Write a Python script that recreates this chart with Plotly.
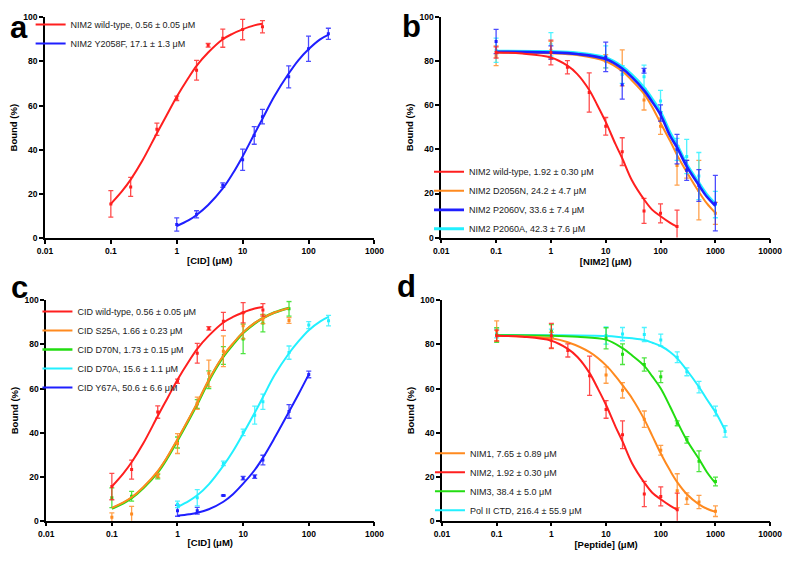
import plotly.graph_objects as go

# ---------------- data ----------------
# Panel a : CID titration
a_wt_x = [0.1, 0.2, 0.5, 1, 2, 3, 5, 10, 20]
a_wt_y = [15.5, 23.2, 49.3, 63.3, 76.0, 87.3, 90.5, 94.4, 95.7]
a_wt_e = [6.0, 4.3, 2.8, 1.0, 4.5, 0.8, 4.1, 4.6, 2.8]
a_wt_cx = [0.1, 0.15, 0.2, 0.3, 0.5, 0.7, 1, 1.5, 2, 3, 5, 7, 10, 15, 20]
a_wt_cy = [15.5, 21.5, 26.5, 35.0, 47.5, 55.5, 64.0, 72.5, 78.0, 84.0, 90.0, 92.5, 94.5, 96.3, 97.0]

a_mut_x = [1, 2, 5, 10, 15, 20, 50, 100, 200]
a_mut_y = [6.2, 10.8, 24.0, 35.5, 46.5, 55.0, 73.0, 85.7, 92.5]
a_mut_e = [3.0, 1.6, 1.0, 4.8, 4.0, 3.3, 5.0, 5.7, 2.5]
a_mut_cx = [1, 1.5, 2, 3, 5, 7, 10, 15, 20, 30, 50, 70, 100, 150, 200]
a_mut_cy = [5.5, 8.0, 10.5, 15.0, 22.5, 29.0, 37.0, 47.0, 54.0, 64.0, 74.5, 80.5, 85.5, 90.0, 92.0]

# Panel b : NIM2 competition
b_wt_x = [0.1, 1, 2, 5, 10, 20, 50, 100, 200]
b_wt_y = [84.0, 84.0, 77.3, 65.8, 50.5, 39.0, 12.1, 11.0, 5.0]
b_wt_e = [2.5, 5.6, 3.0, 8.9, 4.0, 6.3, 5.7, 4.3, 7.5]
b_wt_cx = [0.1, 0.3, 1, 2, 3, 5, 7, 10, 15, 20, 30, 50, 70, 100, 150, 200]
b_wt_cy = [84.0, 83.5, 81.7, 78.0, 74.3, 67.0, 60.2, 52.5, 42.5, 36.0, 26.0, 17.3, 12.7, 9.7, 6.7, 5.0]

b_mx = [0.1, 1, 10, 20, 50, 100, 200, 300, 500, 1000]
b_d2056n_y = [82.5, 85.0, 80.0, 77.0, 62.4, 50.5, 32.7, 31.0, 21.5, 11.0]
b_d2056n_e = [4.5, 4.0, 3.0, 8.2, 4.5, 3.7, 8.9, 4.0, 13.5, 5.0]
b_p2060v_y = [89.0, 84.0, 82.0, 69.3, 75.7, 56.5, 40.1, 30.5, 23.6, 15.6]
b_p2060v_e = [5.5, 3.0, 6.7, 6.5, 1.1, 3.7, 6.7, 4.5, 7.2, 12.6]
b_p2060a_y = [85.0, 87.7, 82.0, 74.0, 73.0, 62.0, 40.0, 36.8, 27.9, 15.0]
b_p2060a_e = [5.5, 5.3, 5.0, 4.0, 5.3, 4.8, 5.0, 7.8, 10.7, 6.0]
b_mcx = [0.1, 1, 3, 10, 20, 30, 50, 70, 100, 150, 200, 300, 500, 700, 1000]
b_d2056n_cy = [84.0, 83.6, 82.8, 80.0, 75.5, 71.3, 65.2, 59.4, 52.0, 43.8, 37.5, 29.8, 20.8, 15.5, 11.2]
b_p2060v_cy = [84.3, 84.0, 83.3, 81.0, 76.7, 72.8, 66.8, 61.7, 55.7, 46.1, 40.9, 32.3, 23.8, 18.5, 14.4]
b_p2060a_cy = [84.6, 84.4, 83.8, 81.6, 77.5, 73.8, 68.0, 63.0, 57.0, 47.5, 42.0, 33.3, 24.8, 19.5, 15.3]

# Panel c : CID mutants
c_sx = [0.1, 0.2, 0.5, 1, 2, 3, 5, 10, 20, 50]
c_s25a_y = [1.5, 3.0, 20.5, 35.0, 53.3, 66.9, 76.9, 88.5, 91.5, 90.9]
c_s25a_e = [2.0, 3.5, 1.0, 4.5, 2.8, 6.0, 7.0, 6.0, 2.0, 1.3]
c_d70n_y = [10.4, 11.1, 20.0, 35.5, 53.0, 64.0, 75.0, 82.5, 89.7, 96.2]
c_d70n_e = [4.5, 2.2, 1.0, 2.5, 2.0, 4.0, 4.0, 6.7, 4.0, 3.3]
c_scx = [0.1, 0.15, 0.2, 0.3, 0.5, 0.7, 1, 1.5, 2, 3, 5, 7, 10, 15, 20, 30, 50]
c_s25a_cy = [5.8, 8.3, 10.6, 15.2, 22.5, 29.0, 37.0, 46.5, 53.5, 64.0, 75.0, 80.5, 85.5, 89.8, 92.0, 94.5, 96.5]
c_d70n_cy = [5.5, 8.0, 10.3, 14.8, 22.0, 28.5, 36.5, 46.0, 53.0, 63.5, 74.5, 80.0, 85.3, 89.6, 92.0, 94.5, 96.6]

c_d70a_x = [1, 2, 5, 10, 15, 20, 50, 100, 200]
c_d70a_y = [7.4, 10.4, 26.0, 40.1, 47.9, 54.0, 76.3, 88.8, 90.8]
c_d70a_e = [1.5, 3.7, 1.0, 1.5, 4.1, 3.5, 3.0, 1.6, 2.4]
c_d70a_cx = [1, 1.5, 2, 3, 5, 7, 10, 15, 20, 30, 50, 70, 100, 150, 200]
c_d70a_cy = [6.2, 9.0, 11.5, 16.5, 25.0, 31.5, 39.5, 49.0, 56.0, 66.0, 76.0, 81.5, 86.5, 90.5, 92.5]

c_y67a_x = [1, 2, 5, 10, 15, 20, 50, 100]
c_y67a_y = [4.5, 4.5, 11.4, 19.3, 20.0, 27.5, 49.6, 66.4]
c_y67a_e = [2.5, 1.5, 0.3, 0.8, 0.8, 2.2, 3.1, 1.5]
c_y67a_cx = [1, 1.5, 2, 3, 5, 7, 10, 15, 20, 30, 50, 70, 100]
c_y67a_cy = [2.2, 2.9, 3.6, 5.2, 8.6, 12.0, 16.8, 23.0, 28.5, 37.5, 49.5, 57.5, 66.4]

# Panel d : peptide competition
d_px = [0.1, 1, 10, 20, 50, 100, 200, 300, 500, 1000]
d_nim1_y = [86.2, 81.8, 66.1, 59.2, 46.1, 32.0, 13.6, 10.0, 8.5, 4.3]
d_nim1_e = [4.5, 3.7, 3.7, 3.5, 3.7, 2.2, 7.7, 2.6, 3.0, 2.4]
d_nim1_cx = [0.1, 1, 2, 5, 10, 15, 20, 30, 50, 70, 100, 150, 200, 300, 500, 700, 1000]
d_nim1_cy = [84.0, 82.8, 81.0, 76.5, 70.5, 65.5, 61.5, 55.5, 46.0, 38.5, 30.5, 22.5, 17.5, 12.0, 7.4, 5.4, 4.0]
d_nim3_y = [84.3, 86.0, 82.8, 75.6, 70.9, 65.3, 44.2, 36.7, 27.0, 17.8]
d_nim3_e = [3.3, 3.0, 4.8, 4.7, 3.0, 2.6, 1.1, 1.5, 4.7, 2.0]
d_nim3_cx = [0.1, 1, 3, 10, 20, 30, 50, 70, 100, 150, 200, 300, 500, 700, 1000]
d_nim3_cy = [84.2, 84.0, 83.5, 82.2, 78.3, 75.0, 70.3, 65.5, 60.0, 51.5, 45.0, 36.5, 28.0, 22.0, 17.0]
d_ctd_x = [0.1, 1, 10, 20, 50, 100, 200, 300, 500, 1000, 1500]
d_ctd_y = [85.0, 85.0, 84.1, 84.7, 84.5, 82.0, 74.2, 67.6, 60.6, 49.8, 40.5]
d_ctd_e = [2.0, 2.0, 3.9, 3.0, 3.2, 2.7, 2.4, 1.8, 2.6, 2.2, 2.6]
d_ctd_cx = [0.1, 1, 10, 20, 30, 50, 70, 100, 150, 200, 300, 500, 700, 1000, 1500]
d_ctd_cy = [84.3, 84.2, 83.8, 83.2, 82.8, 82.0, 80.8, 79.3, 76.5, 73.7, 68.3, 60.7, 55.0, 49.3, 41.0]

tickvals_5 = [0.01, 0.1, 1, 10, 100, 1000]
ticktext_5 = ["0.01", "0.1", "1", "10", "100", "1000"]
tickvals_6 = [0.01, 0.1, 1, 10, 100, 1000, 10000]
ticktext_6 = ["0.01", "0.1", "1", "10", "100", "1000", "10000"]
yticks = [0, 20, 40, 60, 80, 100]

# ---------------- styling ----------------
RED = "#ff1f1f"
BLUE = "#1f1fff"
ORANGE = "#ff8a1f"
GREEN = "#22dd11"
CYAN = "#22f0ff"
FONT = "Liberation Sans, Arial, Helvetica, sans-serif"

def err_color(c, a=0.8):
    c = c.lstrip("#")
    r, g, b = int(c[0:2], 16), int(c[2:4], 16), int(c[4:6], 16)
    return f"rgba({r},{g},{b},{a})"

fig = go.Figure()

def add_series(ax, x, y, e, cx, cy, color, name, legend, rank, width=2.0):
    xa = "x" if ax == 1 else f"x{ax}"
    ya = "y" if ax == 1 else f"y{ax}"
    fig.add_trace(go.Scatter(
        x=cx, y=cy, mode="lines", line=dict(color=color, width=width, shape="spline", smoothing=1.0),
        name=name, legend=legend, legendrank=rank, xaxis=xa, yaxis=ya, showlegend=True,
        hoverinfo="skip"))
    fig.add_trace(go.Scatter(
        x=x, y=y, mode="markers", marker=dict(color=color, size=3, symbol="square"),
        error_y=dict(type="data", array=e, visible=True, color=err_color(color), thickness=1.3, width=2.5),
        xaxis=xa, yaxis=ya, showlegend=False, legend=legend, cliponaxis=True, hoverinfo="skip"))

# Panel a
add_series(1, a_wt_x, a_wt_y, a_wt_e, a_wt_cx, a_wt_cy, RED, "NIM2 wild-type, 0.56 ± 0.05 μM", "legend", 1)
add_series(1, a_mut_x, a_mut_y, a_mut_e, a_mut_cx, a_mut_cy, BLUE, "NIM2 Y2058F, 17.1 ± 1.3 μM", "legend", 2)

# Panel b (draw order: cyan below blue)
add_series(2, b_mx, b_d2056n_y, b_d2056n_e, b_mcx, b_d2056n_cy, ORANGE, "NIM2 D2056N, 24.2 ± 4.7 μM", "legend2", 2)
add_series(2, b_mx, b_p2060a_y, b_p2060a_e, b_mcx, b_p2060a_cy, CYAN, "NIM2 P2060A, 42.3 ± 7.6 μM", "legend2", 4, width=3.0)
add_series(2, b_mx, b_p2060v_y, b_p2060v_e, b_mcx, b_p2060v_cy, BLUE, "NIM2 P2060V, 33.6 ± 7.4 μM", "legend2", 3, width=2.6)
add_series(2, b_wt_x, b_wt_y, b_wt_e, b_wt_cx, b_wt_cy, RED, "NIM2 wild-type, 1.92 ± 0.30 μM", "legend2", 1)

# Panel c
add_series(3, c_y67a_x, c_y67a_y, c_y67a_e, c_y67a_cx, c_y67a_cy, BLUE, "CID Y67A, 50.6 ± 6.6 μM", "legend3", 5)
add_series(3, c_d70a_x, c_d70a_y, c_d70a_e, c_d70a_cx, c_d70a_cy, CYAN, "CID D70A, 15.6 ± 1.1 μM", "legend3", 4)
add_series(3, c_sx, c_d70n_y, c_d70n_e, c_scx, c_d70n_cy, GREEN, "CID D70N, 1.73 ± 0.15 μM", "legend3", 3, width=2.6)
add_series(3, c_sx, c_s25a_y, c_s25a_e, c_scx, c_s25a_cy, ORANGE, "CID S25A, 1.66 ± 0.23 μM", "legend3", 2)
add_series(3, a_wt_x, a_wt_y, a_wt_e, a_wt_cx, a_wt_cy, RED, "CID wild-type, 0.56 ± 0.05 μM", "legend3", 1)

# Panel d
add_series(4, d_ctd_x, d_ctd_y, d_ctd_e, d_ctd_cx, d_ctd_cy, CYAN, "Pol II CTD, 216.4 ± 55.9 μM", "legend4", 4)
add_series(4, d_px, d_nim3_y, d_nim3_e, d_nim3_cx, d_nim3_cy, GREEN, "NIM3, 38.4 ± 5.0 μM", "legend4", 3)
add_series(4, d_px, d_nim1_y, d_nim1_e, d_nim1_cx, d_nim1_cy, ORANGE, "NIM1, 7.65 ± 0.89 μM", "legend4", 1)
add_series(4, b_wt_x, b_wt_y, b_wt_e, b_wt_cx, b_wt_cy, RED, "NIM2, 1.92 ± 0.30 μM", "legend4", 2)

# The page body has an 8px default margin, so the figure is made 8px smaller
# and all page positions are converted into figure coordinates.
OFF = 8
W, H = 800 - OFF, 562 - OFF
def px(v):
    return (v - OFF) / W
def py(v):
    return 1 - (v - OFF) / H

tickfont = dict(family=FONT, size=8.5, color="black", weight="bold")
titlefont = dict(family=FONT, size=9.5, color="black", weight="bold")

def xaxis(domain, lo, hi, vals, text, title, anchor):
    return dict(type="log", range=[lo, hi], domain=domain, anchor=anchor,
                tickmode="array", tickvals=vals, ticktext=text,
                showline=True, linecolor="black", linewidth=1.6, mirror=False,
                ticks="outside", ticklen=4, tickwidth=1.6, tickcolor="black",
                showgrid=False, zeroline=False, tickfont=tickfont,
                title=dict(text=title, font=titlefont, standoff=2))

def yaxis(domain, anchor):
    return dict(range=[0, 100], domain=domain, anchor=anchor,
                tickmode="array", tickvals=yticks,
                showline=True, linecolor="black", linewidth=1.6,
                ticks="outside", ticklen=4, tickwidth=1.6, tickcolor="black",
                showgrid=False, zeroline=False, tickfont=tickfont,
                title=dict(text="Bound (%)", font=titlefont, standoff=4))

legfont = dict(family=FONT, size=9, color="#222222")
def legend(x, y):
    return dict(x=x, y=y, xanchor="left", yanchor="top", bgcolor="rgba(0,0,0,0)",
                font=legfont, borderwidth=0, tracegroupgap=0)

fig.update_layout(
    width=W, height=H, autosize=False,
    margin=dict(l=0, r=0, t=0, b=0),
    paper_bgcolor="white", plot_bgcolor="white",
    showlegend=True,
    xaxis=xaxis([px(37.7), px(375.7)], -2, 3, tickvals_5, ticktext_5, "[CID] (μM)", "y"),
    yaxis=yaxis([py(237.3), py(12.3)], "x"),
    xaxis2=xaxis([px(444.3), px(781.7)], -2, 4, tickvals_6, ticktext_6, "[NIM2] (μM)", "y2"),
    yaxis2=yaxis([py(236.7), py(12.3)], "x2"),
    xaxis3=xaxis([px(39), px(375.7)], -2, 3, tickvals_5, ticktext_5, "[CID] (μM)", "y3"),
    yaxis3=yaxis([py(525), py(300.7)], "x3"),
    xaxis4=xaxis([px(445), px(781.7)], -2, 4, tickvals_6, ticktext_6, "[Peptide] (μM)", "y4"),
    yaxis4=yaxis([py(525), py(300.7)], "x4"),
    legend=legend(px(23), py(5)),
    legend2=legend(px(431.7), py(155)),
    legend3=legend(px(30), py(297.2)),
    legend4=legend(px(432.7), py(441.5)),
)

letter_font = dict(family=FONT, size=31, color="black", weight="bold")
for txt, x, y in [("a", 11, 22.5), ("b", 414, 22), ("c", 12, 287.5), ("d", 409, 287)]:
    fig.add_annotation(text=txt, x=px(x), y=py(y), xref="paper", yref="paper",
                       xanchor="center", yanchor="middle", showarrow=False, font=letter_font)

fig.write_html("out.html")
